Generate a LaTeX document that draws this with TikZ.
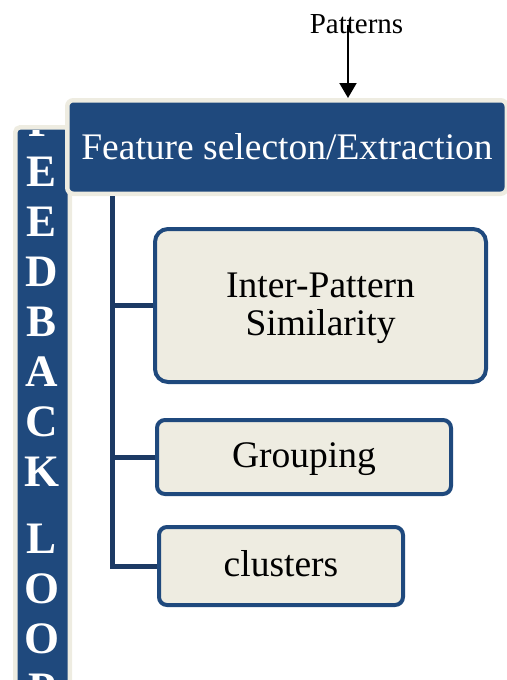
\documentclass[tikz,border=0pt]{standalone}
\usepackage{fontspec}
\setmainfont{Liberation Serif}
\usetikzlibrary{arrows.meta}
\definecolor{hdrblue}{RGB}{31,73,125}
\definecolor{paper}{RGB}{238,236,225}
\definecolor{linkblue}{RGB}{28,58,100}
\begin{document}
\begin{tikzpicture}[x=1pt,y=-1pt,
  darkpanel/.style={fill=hdrblue,draw=paper,line width=4.5pt,inner sep=0pt},
  stagebox/.style={draw=hdrblue,fill=paper,line width=4pt,inner sep=0pt,
    align=center,font=\fontsize{37.5}{38}\selectfont},
  stagetext/.style={inner sep=0pt,align=center,font=\fontsize{37.5}{37.5}\selectfont},
  loopletter/.style={anchor=base,text=white,inner sep=0pt,
    font=\fontsize{45}{45}\selectfont\bfseries},
  trunkline/.style={draw=linkblue,line width=5pt},
  feedarrow/.style={draw=black,line width=2pt,-{Triangle[length=15pt,width=17pt]}}]
\useasboundingbox (0,0) rectangle (506,680);

% feedback loop bar on the left
\node[darkpanel,rounded corners=5pt,minimum width=54.5pt,minimum height=590.5pt]
  (fbbar) at (42.5,422.5) {};
\begin{scope}
  \clip (17,130) rectangle (67,720);
  \foreach \ch [count=\i from 0] in {F,E,E,D,B,A,C,K}
    \node[loopletter] (fb\i) at (42,136+50*\i) {\ch};
  \foreach \ch [count=\i from 0] in {L,O,O,P}
    \node[loopletter] (lp\i) at (42,553+50*\i) {\ch};
\end{scope}

% header
\node[darkpanel,rounded corners=6pt,minimum width=439.5pt,minimum height=93.5pt,
  text=white,font=\fontsize{37.5}{40}\selectfont]
  (hdr) at (287,147) {Feature selecton/Extraction};

% input label and arrow
\node[anchor=base,inner sep=0pt,font=\fontsize{29}{29}\selectfont]
  (pat) at (356.5,33) {Patterns};
\coordinate (arrtail) at (348,25);
\draw[feedarrow] (arrtail) -- (arrtail |- hdr.north);

% stages
\node[stagebox,rounded corners=13pt,minimum width=331pt,minimum height=153pt]
  (ip) at (320.5,305.5) {};
\node[stagetext,yshift=-3pt] (iplabel) at (ip.center) {Inter-Pattern\\Similarity};
\node[stagebox,rounded corners=8pt,minimum width=294pt,minimum height=74pt,
  text height=25pt,text depth=4pt]
  (grp) at (304,457) {Grouping};
\node[stagebox,rounded corners=8pt,minimum width=244pt,minimum height=78pt,
  text height=25pt,text depth=4pt]
  (cl) at (281,566) {clusters};

% trunk and branches
\coordinate (trunk) at (112,0);
\draw[trunkline] (trunk |- hdr.south) |- (cl.west);
\draw[trunkline] (trunk |- ip.west) -- (ip.west);
\draw[trunkline] (trunk |- grp.west) -- (grp.west);
\end{tikzpicture}
\end{document}
